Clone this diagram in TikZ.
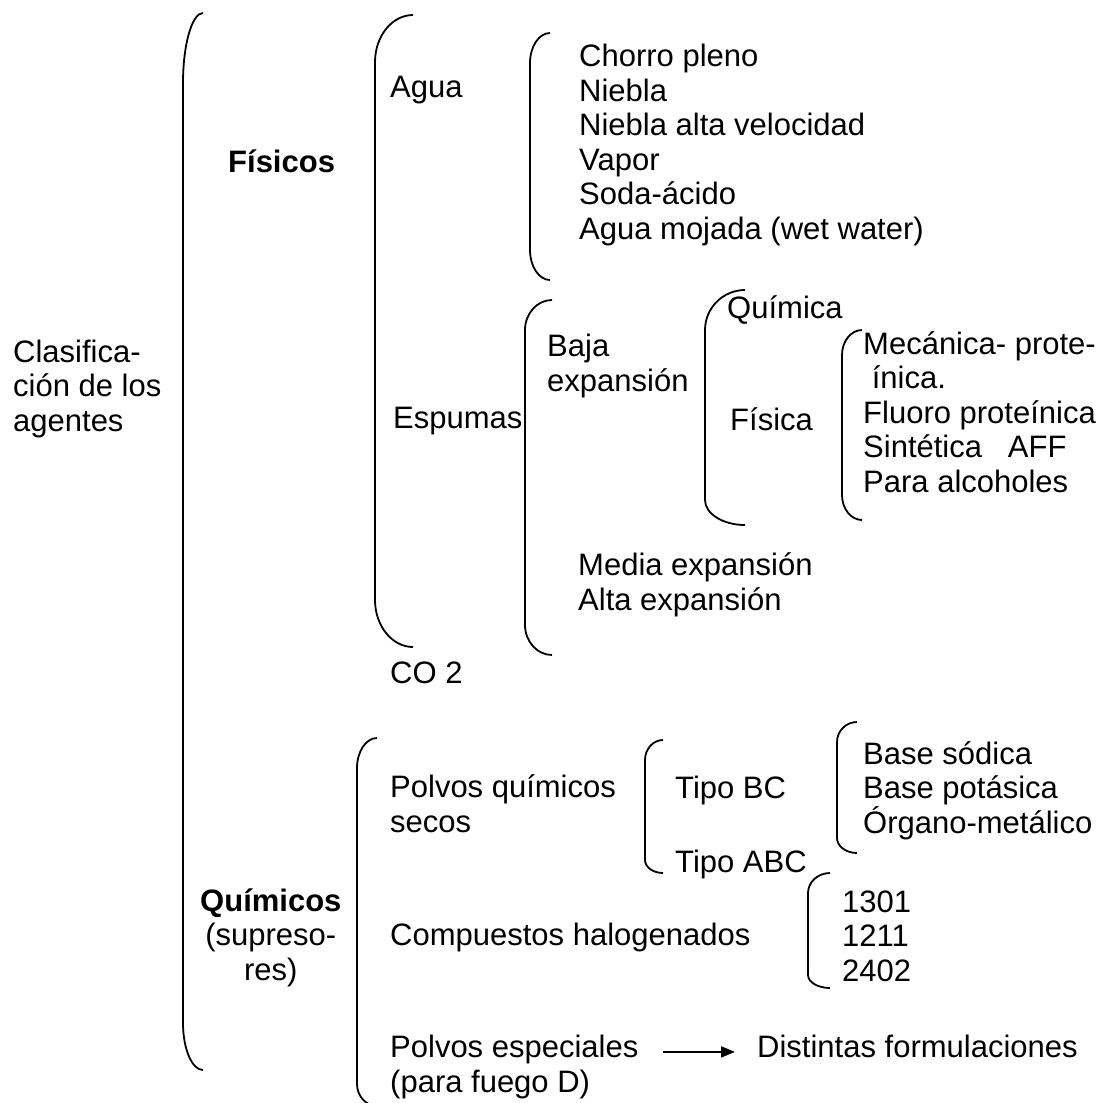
\documentclass[tikz,border=0pt]{standalone}
\usepackage{fontspec}
\setmainfont{Liberation Sans}
\usetikzlibrary{arrows.meta,calc}

\newcommand{\brk}[6]{%
  \draw[brack] ({#1+#4},#2) .. controls ({#1+0.45*#4},#2) and (#1,{#2+0.45*#5}) .. (#1,{#2+#5})
    -- (#1,{#3-#6}) .. controls (#1,{#3-0.45*#6}) and ({#1+0.45*#4},#3) .. ({#1+#4},#3);}

\begin{document}
\begin{tikzpicture}[
        x=1pt, y=-1pt,
        txt/.style={anchor=base west, inner sep=0pt, align=left, font=\fontsize{31}{34.5}\selectfont},
        brack/.style={line width=1.8pt},
        arr/.style={line width=1.8pt, -{Triangle[length=14pt,width=11pt]}}
      ]
        \useasboundingbox (0,0) rectangle (1107,1102);

        \node (clasif) at (13, 431) [txt] {Clasifica-\\ción de los\\agentes};
        \node (fis) at (228, 173) [txt] {\textbf{Físicos}};
        \node (quim) at (200, 980) [txt, align=center] {\textbf{Químicos}\\(supreso-\\res)};

        \node (agua) at (390, 98) [txt] {Agua};
        \node (esp) at (393, 428) [txt] {Espumas};
        \node (co2) at (390, 683) [txt] {CO 2};
        \node (aguas) at (579, 239) [txt] {Chorro pleno\\Niebla\\Niebla alta velocidad\\Vapor\\Soda-ácido\\Agua mojada (wet water)};

        \node (baja) at (547, 391) [txt] {Baja\\expansión};
        \node (media) at (578, 610) [txt] {Media expansión\\Alta expansión};
        \node (quimica) at (727, 318) [txt] {Química};
        \node (fisica) at (730, 430) [txt] {Física};
        \node (mecan) at (863, 492) [txt] {Mecánica- prote-\\\ ínica.\\Fluoro proteínica\\Sintética\ \ \ AFF\\Para alcoholes};

        \node (polvos) at (390, 832) [txt] {Polvos químicos\\secos};
        \node (tbc) at (675, 798) [txt] {Tipo BC};
        \node (tabc) at (675, 872) [txt] {Tipo ABC};
        \node (bases) at (863, 833) [txt] {Base sódica\\Base potásica\\Órgano-metálico};
        \node (halog) at (390, 945) [txt] {Compuestos halogenados};
        \node (halones) at (842, 981) [txt] {1301\\1211\\2402};
        \node (pesp) at (390, 1092) [txt] {Polvos especiales\\(para fuego D)};
        \node (formul) at (757, 1057) [txt] {Distintas formulaciones};

        \brk{183}{13}{1070}{20}{70}{47}
        \brk{375}{15}{647}{38}{47}{47}
        \brk{357}{738}{1106}{20}{30}{22}
        \brk{530}{33}{280}{20}{30}{30}
        \brk{525}{300}{655}{27}{30}{30}
        \brk{705}{290}{525}{40}{40}{25}
        \brk{842}{330}{520}{20}{25}{25}
        \brk{645}{740}{873}{18}{20}{13}
        \brk{837}{722}{853}{20}{20}{15}
        \brk{808}{873}{988}{22}{20}{13}

        \draw [arr] ($(pesp.east |- formul.west)+(24,6)$) -- ($(formul.west)+(-22,6)$);
      \end{tikzpicture}
\end{document}
